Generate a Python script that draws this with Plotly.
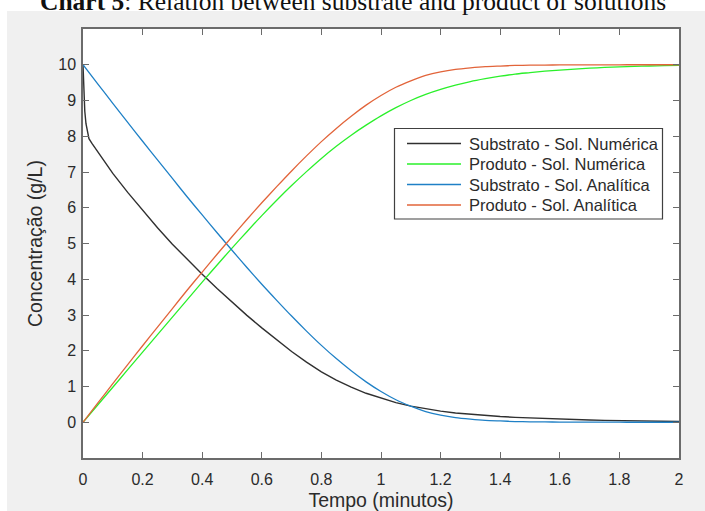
import plotly.graph_objects as go

# ---------------- data ----------------
tempo = [0.00, 0.05, 0.10, 0.15, 0.20, 0.25, 0.30, 0.35, 0.40, 0.45,
         0.50, 0.55, 0.60, 0.65, 0.70, 0.75, 0.80, 0.85, 0.90, 0.95,
         1.00, 1.05, 1.10, 1.15, 1.20, 1.25, 1.30, 1.35, 1.40, 1.45,
         1.50, 1.55, 1.60, 1.65, 1.70, 1.75, 1.80, 1.85, 1.90, 1.95, 2.00]

tempo_sub_num = [0.000, 0.003, 0.006, 0.010, 0.015, 0.020, 0.030, 0.040,
                 0.05, 0.075, 0.10, 0.15, 0.20, 0.25, 0.30, 0.35, 0.40, 0.45,
                 0.50, 0.55, 0.60, 0.65, 0.70, 0.75, 0.80, 0.85, 0.90, 0.95,
                 1.00, 1.05, 1.10, 1.15, 1.20, 1.25, 1.30, 1.35, 1.40, 1.45,
                 1.50, 1.55, 1.60, 1.65, 1.70, 1.75, 1.80, 1.85, 1.90, 1.95, 2.00]
substrato_num = [10.0, 9.2, 8.7, 8.35, 8.08, 7.93, 7.80, 7.68,
                 7.56, 7.27, 6.96, 6.43, 5.93, 5.44, 4.98, 4.55, 4.14, 3.74,
                 3.36, 2.99, 2.64, 2.30, 1.98, 1.68, 1.41, 1.18, 0.98, 0.81,
                 0.67, 0.55, 0.45, 0.37, 0.31, 0.26, 0.22, 0.185, 0.16, 0.137,
                 0.118, 0.10, 0.086, 0.073, 0.062, 0.052, 0.043, 0.036, 0.030, 0.025, 0.020]

produto_num = [0.00, 0.49, 0.98, 1.47, 1.96, 2.45, 2.94, 3.43, 3.92, 4.40,
               4.87, 5.33, 5.78, 6.21, 6.62, 7.01, 7.38, 7.72, 8.03, 8.31,
               8.57, 8.80, 9.00, 9.17, 9.31, 9.43, 9.53, 9.61, 9.68, 9.74,
               9.78, 9.82, 9.85, 9.88, 9.905, 9.925, 9.94, 9.955, 9.965, 9.975, 9.985]

substrato_ana = [10.0, 9.46, 8.92, 8.39, 7.86, 7.34, 6.82, 6.30, 5.80, 5.30,
                 4.81, 4.33, 3.86, 3.41, 2.97, 2.55, 2.15, 1.78, 1.44, 1.13,
                 0.86, 0.63, 0.45, 0.30, 0.20, 0.13, 0.086, 0.052, 0.036, 0.020,
                 0.013, 0.008, 0.005, 0.003, 0.002, 0.001, 0.001, 0.0, 0.0, 0.0, 0.0]

produto_ana = [0.00, 0.54, 1.08, 1.61, 2.14, 2.66, 3.18, 3.70, 4.20, 4.70,
               5.19, 5.67, 6.14, 6.59, 7.03, 7.45, 7.85, 8.22, 8.56, 8.87,
               9.14, 9.37, 9.55, 9.70, 9.80, 9.87, 9.914, 9.948, 9.964, 9.980,
               9.987, 9.992, 9.995, 9.997, 9.998, 9.999, 9.999, 10.0, 10.0, 10.0, 10.0]

x_ticks = [0, 0.2, 0.4, 0.6, 0.8, 1, 1.2, 1.4, 1.6, 1.8, 2]
x_tick_text = ["0", "0.2", "0.4", "0.6", "0.8", "1", "1.2", "1.4", "1.6", "1.8", "2"]
y_ticks = [0, 1, 2, 3, 4, 5, 6, 7, 8, 9, 10]

names = ["Substrato - Sol. Numérica", "Produto - Sol. Numérica",
         "Substrato - Sol. Analítica", "Produto - Sol. Analítica"]
colors = ["#303030", "#2af02a", "#1f80c6", "#e2643a"]

# ---------------- layout geometry ----------------
W, H = 705, 511
L, R, T, B = 83, 26, 29, 53
PW, PH = W - L - R, H - T - B


def px(x):
    return (x - L) / PW


def py(y):
    return (H - B - y) / PH


SANS = "Liberation Sans, Arial, Helvetica, sans-serif"
AXC = "#6b6b6b"
TXC = "#2b2b2b"

fig = go.Figure()
fig.add_trace(go.Scatter(x=tempo_sub_num, y=substrato_num, mode="lines", name=names[0],
                         line=dict(color=colors[0], width=1.4)))
fig.add_trace(go.Scatter(x=tempo, y=produto_num, mode="lines", name=names[1],
                         line=dict(color=colors[1], width=1.3, shape="spline", smoothing=0.6)))
fig.add_trace(go.Scatter(x=tempo, y=substrato_ana, mode="lines", name=names[2],
                         line=dict(color=colors[2], width=1.3, shape="spline", smoothing=0.6)))
fig.add_trace(go.Scatter(x=tempo, y=produto_ana, mode="lines", name=names[3],
                         line=dict(color=colors[3], width=1.3, shape="spline", smoothing=0.6)))

axis_common = dict(showgrid=False, zeroline=False, showline=True, linecolor=AXC, linewidth=1.5,
                   mirror="ticks", ticks="inside", ticklen=6, tickwidth=1.2, tickcolor=AXC,
                   automargin=False,
                   tickfont=dict(family=SANS, size=16, color=TXC))

fig.update_xaxes(range=[0, 2], tickvals=x_ticks, ticktext=x_tick_text,
                 title=dict(text="Tempo (minutos)", font=dict(family=SANS, size=19.5, color=TXC), standoff=8),
                 ticklabelstandoff=6, **axis_common)
fig.update_yaxes(range=[-1, 11], tickvals=y_ticks,
                 title=dict(text="Concentração (g/L)", font=dict(family=SANS, size=19.5, color=TXC), standoff=10),
                 ticklabelstandoff=2, **axis_common)

shapes = [
    dict(type="rect", xref="paper", yref="paper", x0=px(7), x1=px(706), y0=py(512), y1=py(11),
         fillcolor="#f0f0f0", line=dict(width=0), layer="below"),
    dict(type="rect", xref="paper", yref="paper", x0=0, x1=1, y0=0, y1=1,
         fillcolor="white", line=dict(width=0), layer="below"),
    # legend box
    dict(type="rect", xref="paper", yref="paper", x0=px(394.5), x1=px(662.5), y0=py(219), y1=py(128.5),
         fillcolor="white", line=dict(color="#404040", width=1.2), layer="above"),
]

# legend entries (drawn from the trace names/colours)
rows = [143.5, 164, 184.5, 205]
annotations = []
for name, col, ry in zip(names, colors, rows):
    shapes.append(dict(type="line", xref="paper", yref="paper", x0=px(407), x1=px(461),
                       y0=py(ry), y1=py(ry), line=dict(color=col, width=1.3), layer="above"))
    annotations.append(dict(text=name, xref="paper", yref="paper", x=px(467), y=py(ry),
                            xanchor="left", yanchor="middle", showarrow=False,
                            font=dict(family=SANS, size=16.5, color=TXC)))

annotations.append(dict(text="<b>Chart 5</b>: Relation between substrate and product of solutions",
                        xref="paper", yref="paper", x=px(353), y=py(17.5), xanchor="center", yanchor="bottom",
                        showarrow=False,
                        font=dict(family="Liberation Serif, Times New Roman, serif", size=25.5, color="#111")))

fig.update_layout(
    width=W, height=H,
    margin=dict(l=L, r=R, t=T, b=B, pad=0),
    paper_bgcolor="white", plot_bgcolor="white",
    shapes=shapes,
    annotations=annotations,
    showlegend=False,
)

fig.write_html("out.html")
